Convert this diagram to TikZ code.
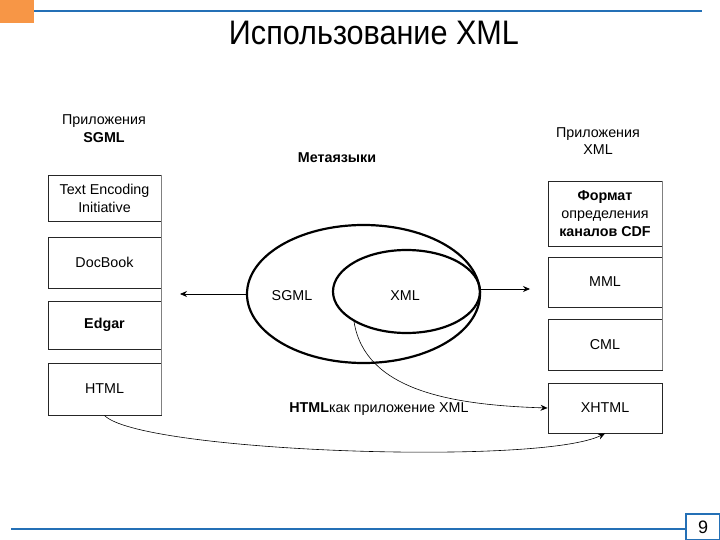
\documentclass[tikz,border=0pt]{standalone}
\usepackage{fontspec}
\setmainfont{Liberation Sans}
\usetikzlibrary{shapes.geometric,arrows.meta}
\definecolor{slideblue}{RGB}{36,112,182}
\definecolor{slideorange}{RGB}{247,150,70}
\tikzset{
  appbox/.style={draw=black!85,line width=0.9pt,inner sep=1pt,align=center,
    font=\fontsize{14.3}{18}\selectfont,minimum width=113pt},
  lbl/.style={align=center,font=\fontsize{14.3}{17.5}\selectfont,inner sep=0pt},
  ell/.style={draw,ellipse,line width=2.2pt,inner sep=0pt},
  arr/.style={-{Stealth[length=7pt,width=6pt]},line width=0.8pt},
  thinarr/.style={-{Stealth[length=7pt,width=6pt]},line width=0.6pt}
}
\begin{document}
\begin{tikzpicture}[x=1pt,y=-1pt]
\useasboundingbox (0,0) rectangle (720,540);
% frame decoration
\fill[slideorange] (0,0) rectangle (34,23);
\draw[slideblue,line width=2.6pt] (34,11) -- (702,11);
\draw[slideblue,line width=2.6pt] (11,529) -- (688,529);
\node[draw=slideblue,line width=1.6pt,fill=white,minimum width=34pt,minimum height=26pt,inner sep=0pt,
  font=\fontsize{18}{20}\selectfont] (pg) at (703,527) {9};
\node[font=\fontsize{34}{38}\selectfont,inner sep=0pt,xscale=0.9] (title) at (374,33) {Использование XML};
% left column
\node[lbl] (lh) at (104,128.5) {Приложения\\\textbf{SGML}};
\node[appbox,minimum height=46pt] (l1) at (104.5,198) {Text Encoding\\Initiative};
\node[appbox,minimum height=51pt] (l2) at (104.5,262.5) {DocBook};
\node[appbox,minimum height=48pt] (l3) at (104.5,325) {\textbf{Edgar}};
\node[appbox,minimum height=52pt] (l4) at (104.5,389) {HTML};
\draw[black!50,line width=0.5pt] (l1.north east) -- (l4.south east);
% right column
\node[lbl] (rh) at (598,141) {Приложения\\XML};
\node[appbox,minimum height=65pt,minimum width=114pt] (r1) at (605,213.5) {\textbf{Формат}\\определения\\\textbf{каналов CDF}};
\node[appbox,minimum height=50pt,minimum width=114pt] (r2) at (605,282) {MML};
\node[appbox,minimum height=51pt,minimum width=114pt] (r3) at (605,344.5) {CML};
\node[appbox,minimum height=50pt,minimum width=114pt] (r4) at (605,408) {XHTML};
\draw[black!50,line width=0.5pt] (r1.north east) -- (r3.south east);
% middle
\node[lbl] (meta) at (337,158) {\textbf{Метаязыки}};
\node[ell,minimum width=233pt,minimum height=138pt] (big) at (363.5,294) {};
\node[ell,minimum width=147pt,minimum height=83pt] (small) at (406.5,291.5) {};
\node[lbl] (sgml) at (292,296) {SGML};
\node[lbl] (xml) at (405,296) {XML};
\node[lbl] (hx) at (379,409) {\textbf{HTML}как приложение XML};
\coordinate (la) at (180,294);
\coordinate (ra) at (530,289);
\draw[arr] (big.west) -- (la);
\draw[arr] (480,289) -- (ra);
\draw[thinarr] (small.-150) .. controls (365,390) and (450,405) .. (r4.west);
\draw[thinarr] (l4.south) .. controls (140,452) and (540,466) .. (r4.south);
\end{tikzpicture}
\end{document}
